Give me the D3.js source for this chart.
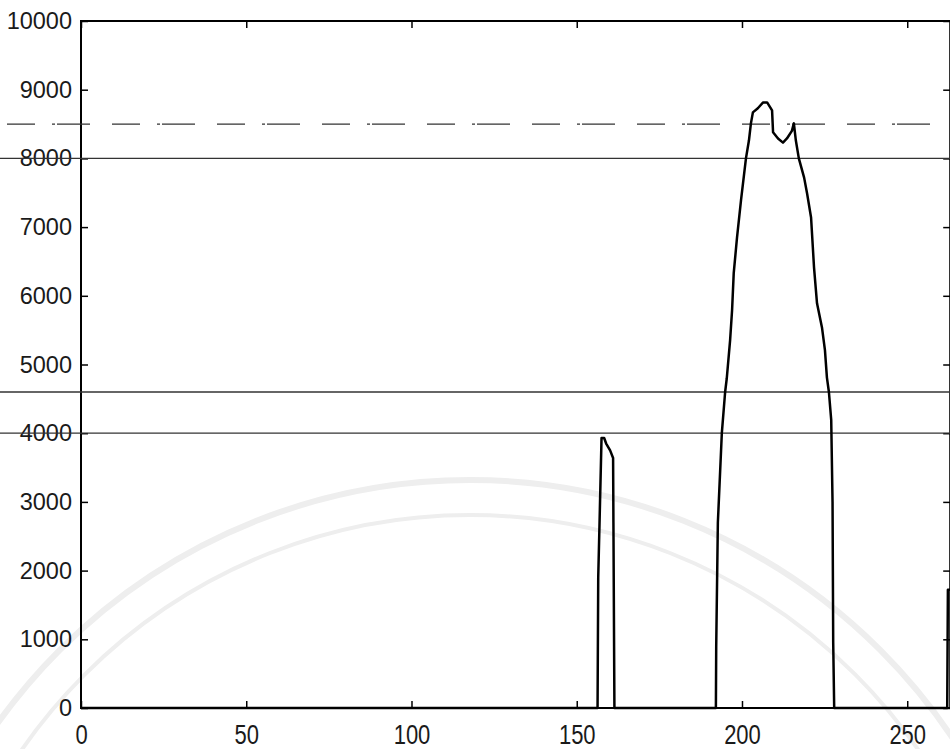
<!DOCTYPE html>
<html>
<head>
<meta charset="utf-8">
<script src="https://cdn.jsdelivr.net/npm/d3@7"></script>
<style>
	body { margin: 0; background: #fff; }
	svg { display: block; }
	.tick text { font-family: "Liberation Sans", Arial, sans-serif; fill: #1a1a1a; }
</style>
</head>
<body>
<svg width="950" height="749"></svg>
<script>
// signal (sample index, value)
var sampleX = [0, 156.3, 156.5, 156.9, 157.5, 158.3, 158.9, 160.1, 161.0, 161.1, 161.4,
	192.1, 192.2, 192.7, 193.9, 194.9, 195.4, 196.4, 197.0, 197.5, 198.5, 199.7, 201.2,
	202.1, 202.7, 203.3, 204.8, 206.4, 207.6, 209.1, 209.4, 210.9, 212.4, 213.6, 215.1,
	215.7, 216.3, 217.2, 218.8, 219.7, 220.9, 221.8, 222.7, 224.2, 225.1, 225.7, 226.3,
	227.0, 227.4, 227.6, 227.9, 262.1, 262.3, 263];
var sampleY = [0, 0, 1900, 2700, 3930, 3930, 3850, 3750, 3640, 2700, 0,
	0, 890, 2700, 4000, 4600, 4800, 5350, 5790, 6330, 6850, 7390, 8000,
	8260, 8510, 8670, 8730, 8815, 8815, 8700, 8380, 8290, 8230, 8290, 8400,
	8510, 8260, 8000, 7720, 7490, 7140, 6410, 5890, 5540, 5210, 4810, 4600,
	4190, 3000, 950, 0, 0, 1720, 1720];

var xTicks = [0, 50, 100, 150, 200, 250];
var yTicks = [0, 1000, 2000, 3000, 4000, 5000, 6000, 7000, 8000, 9000, 10000];
var solidLevels = [8000, 4600, 4000];
var dashLevels = [8500];

var svg = d3.select("svg"),
	W = +svg.attr("width"),
	H = +svg.attr("height");

var x = d3.scaleLinear().domain([0, 263]).range([81, 950.2]);
var y = d3.scaleLinear().domain([0, 10000]).range([708, 21]);

// faint seal in the background
var wm = svg.append("g").attr("fill", "none").attr("stroke", "#eeeeee");
wm.append("circle").attr("cx", 470).attr("cy", 1060).attr("r", 580).attr("stroke-width", 6);
wm.append("circle").attr("cx", 470).attr("cy", 1060).attr("r", 545).attr("stroke-width", 4);

// axes (ticks point inward)
var gx = svg.append("g")
	.attr("transform", "translate(0," + y(0) + ")")
	.call(d3.axisBottom(x).tickValues(xTicks).tickSize(-7).tickSizeOuter(0).tickPadding(0));
gx.selectAll("text")
	.attr("y", 0)
	.attr("dy", 0)
	.attr("font-size", 22)
	.attr("transform", "translate(0,36) scale(1,1.25)");

var gy = svg.append("g")
	.attr("transform", "translate(" + x(0) + ",0)")
	.call(d3.axisLeft(y).tickValues(yTicks).tickFormat(d3.format("d"))
		.tickSize(-7).tickSizeOuter(0).tickPadding(9));
gy.selectAll("text").attr("font-size", 23.5);

svg.append("g")
	.attr("transform", "translate(0," + y(10000) + ")")
	.call(d3.axisTop(x).tickValues(xTicks).tickSize(-7).tickSizeOuter(0).tickFormat(""));
svg.append("g")
	.attr("transform", "translate(" + x(263) + ",0)")
	.call(d3.axisRight(y).tickValues(yTicks).tickSize(-7).tickSizeOuter(0).tickFormat(""));

svg.selectAll(".domain").remove();
svg.selectAll(".tick line").attr("stroke", "#000").attr("stroke-width", 1.5);

svg.append("rect")
	.attr("x", x(0))
	.attr("y", y(10000))
	.attr("width", x(263) - x(0))
	.attr("height", y(0) - y(10000))
	.attr("fill", "none")
	.attr("stroke", "#000")
	.attr("stroke-width", 2);

// threshold lines, drawn across the whole picture
svg.selectAll(".lvl")
	.data(solidLevels)
	.enter().append("line")
	.attr("x1", 0).attr("x2", W)
	.attr("y1", function(d) { return y(d); })
	.attr("y2", function(d) { return y(d); })
	.attr("stroke", "#333")
	.attr("stroke-width", 1.3);

svg.selectAll(".dlvl")
	.data(dashLevels)
	.enter().append("line")
	.attr("x1", 7).attr("x2", W)
	.attr("y1", function(d) { return y(d); })
	.attr("y2", function(d) { return y(d); })
	.attr("stroke", "#333")
	.attr("stroke-width", 1.3)
	.attr("stroke-dasharray", "28,17,3,2,33,22");

var line = d3.line()
	.x(function(d, i) { return x(sampleX[i]); })
	.y(function(d) { return y(d); });

svg.append("path")
	.datum(sampleY)
	.attr("fill", "none")
	.attr("stroke", "#000")
	.attr("stroke-width", 2.5)
	.attr("stroke-linejoin", "round")
	.attr("d", line);
</script>
</body>
</html>
